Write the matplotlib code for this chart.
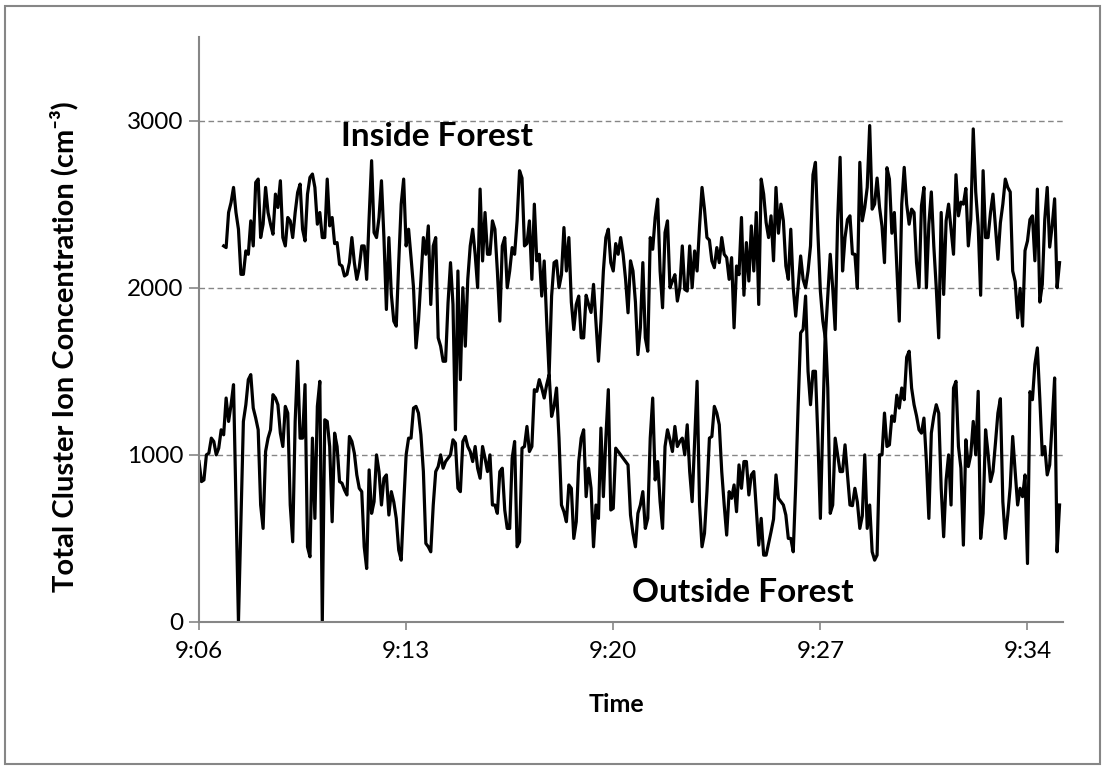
import numpy as np
import matplotlib
matplotlib.use("Agg")
import matplotlib.pyplot as plt
from matplotlib.patches import Rectangle

plt.rcParams['font.family'] = ['Lato', 'DejaVu Sans']

# amostragem de 5 s, tempo em segundos depois das 9:06
passo_s = 5
inicio_dentro_s = 50
inicio_fora_s = 0

dentro = [
    2250, 2240, 2450, 2510, 2600, 2450, 2350, 2080, 2080, 2220, 2200, 2400, 2250, 2630, 2650, 2300,
    2380, 2600, 2450, 2380, 2320, 2560, 2480, 2640, 2300, 2250, 2420, 2400, 2300, 2450, 2570, 2620,
    2350, 2280, 2560, 2660, 2680, 2600, 2380, 2450, 2300, 2300, 2650, 2370, 2420, 2264, 2270, 2140,
    2130, 2070, 2080, 2150, 2300, 2150, 2050, 2120, 2250, 2250, 2050, 2420, 2760, 2330, 2300, 2420,
    2640, 2300, 1870, 2300, 1960, 1800, 1770, 2150, 2500, 2650, 2250, 2350, 2180, 2000, 1640, 1800,
    2050, 2300, 2200, 2370, 1900, 2250, 2300, 1700, 1650, 1560, 1560, 1910, 2150, 1900, 1150, 2100,
    1450, 2000, 1650, 2050, 2250, 2350, 2200, 2000, 2590, 2160, 2450, 2200, 2200, 2400, 2350, 2100,
    1800, 2250, 2300, 2000, 2100, 2240, 2200, 2400, 2700, 2656, 2250, 2264, 2400, 2050, 2500, 2161,
    2200, 1950, 2160, 1800, 1480, 1950, 2150, 2161, 2000, 2078, 2360, 2100, 2300, 1914, 1750, 1900,
    1950, 1700, 1700, 1955, 1900, 1852, 2020, 1790, 1560, 1800, 2100, 2300, 2350, 2150, 2100, 2264,
    2200, 2300, 2200, 2050, 1850, 2161, 2100, 1914, 1600, 1760, 2150, 1700, 1620, 2300, 2230, 2420,
    2530, 2100, 1880, 2330, 2400, 2000, 2040, 2078, 1920, 2000, 2250, 1990, 1980, 2250, 2000, 2220,
    2100, 2367, 2600, 2470, 2300, 2285, 2160, 2120, 2240, 2150, 2300, 2200, 2180, 2050, 2180, 1760,
    2130, 2078, 2420, 1955, 2270, 2040, 2370, 2100, 2450, 1900, 2650, 2560, 2390, 2300, 2430, 2161,
    2600, 2326, 2500, 2400, 2130, 2050, 2350, 2000, 1830, 2010, 2190, 2050, 2000, 2100, 2250, 2676,
    2750, 2326, 1980, 1800, 1700, 1950, 2200, 2000, 1750, 2400, 2780, 2100, 2300, 2408, 2430, 2202,
    2200, 1996, 2750, 2400, 2480, 2600, 2970, 2470, 2500, 2656, 2480, 2367, 2150, 2718, 2650, 2326,
    2450, 2120, 1800, 2500, 2720, 2500, 2380, 2470, 2450, 2150, 2000, 2490, 2600, 2000, 2380, 2573,
    2250, 2000, 1700, 2450, 1960, 2400, 2500, 2350, 2200, 2676, 2430, 2512, 2500, 2594, 2250, 2408,
    2950, 2573, 2370, 1955, 2700, 2300, 2300, 2450, 2560, 2367, 2170, 2388, 2500, 2650, 2600, 2573,
    2100, 2037, 1820, 1996, 1770, 2222, 2280, 2408, 2430, 2161, 2590, 1914, 2020, 2408, 2600, 2243,
    2370, 2532, 2000, 2150,
]

fora = [
    960, 840, 850, 1000, 1010, 1100, 1080, 1000, 1040, 1150, 1120, 1340, 1200, 1300, 1420, 700,
    0, 600, 1200, 1300, 1450, 1480, 1280, 1220, 1150, 700, 560, 1020, 1100, 1150, 1360, 1340,
    1300, 1130, 1050, 1290, 1250, 700, 480, 1200, 1560, 1100, 1100, 1420, 450, 390, 1100, 620,
    1290, 1440, 0, 1210, 1200, 1050, 600, 1130, 1050, 840, 830, 790, 760, 1110, 1080, 1010,
    880, 800, 780, 450, 320, 910, 650, 720, 1000, 900, 700, 860, 880, 640, 780, 718,
    620, 430, 370, 700, 1000, 1100, 1100, 1280, 1290, 1250, 1120, 900, 470, 450, 420, 700,
    900, 930, 1000, 920, 960, 980, 1000, 1090, 1070, 800, 780, 1080, 1110, 1050, 1020, 960,
    1050, 920, 860, 1050, 980, 900, 1000, 700, 700, 650, 900, 920, 670, 560, 560, 980,
    1080, 450, 480, 1040, 1050, 1170, 1020, 1050, 1390, 1380, 1450, 1400, 1340, 1420, 1480, 1230,
    1290, 1400, 1100, 700, 660, 600, 820, 800, 500, 600, 960, 1100, 1150, 750, 920, 800,
    450, 700, 620, 1160, 750, 1100, 1390, 670, 680, 1040, 1020, 1000, 980, 960, 940, 640,
    530, 450, 650, 700, 780, 560, 620, 1100, 1340, 850, 960, 720, 560, 1050, 1150, 1090,
    1020, 1170, 1050, 1080, 1100, 1000, 1180, 900, 720, 1080, 1440, 700, 450, 530, 780, 1100,
    1110, 1290, 1250, 1180, 900, 700, 520, 780, 740, 820, 660, 940, 800, 960, 960, 760,
    880, 900, 680, 460, 620, 400, 400, 470, 540, 615, 880, 740, 720, 700, 640, 500,
    500, 420, 820, 1300, 1730, 1750, 1950, 1500, 1300, 1500, 1500, 1100, 620, 1200, 1750, 1400,
    650, 700, 1100, 1000, 900, 900, 1060, 880, 700, 696, 800, 718, 560, 635, 1000, 560,
    700, 420, 370, 400, 1000, 1000, 1250, 1050, 1060, 1233, 1200, 1357, 1280, 1400, 1330, 1584,
    1620, 1400, 1300, 1233, 1150, 1130, 1220, 960, 620, 1130, 1230, 1300, 1250, 800, 510, 850,
    1000, 700, 1400, 1440, 1050, 920, 460, 1090, 930, 1000, 1200, 1000, 1380, 500, 650, 1150,
    1010, 840, 900, 1070, 1250, 1336, 720, 500, 640, 810, 1110, 900, 700, 800, 750, 880,
    350, 1378, 1330, 1542, 1640, 1336, 1000, 1050, 880, 940, 1190, 1460, 420, 700,
]

ticks_min = [0, 7, 14, 21, 28]
ticks_rotulos = ["9:06", "9:13", "9:20", "9:27", "9:34"]
ticks_y = [0, 1000, 2000, 3000]

t_dentro = (inicio_dentro_s + np.arange(len(dentro)) * passo_s) / 60
t_fora = (inicio_fora_s + np.arange(len(fora)) * passo_s) / 60

cinza = "#868686"
W, H = 1106, 769

fig = plt.figure(figsize=(W / 100, H / 100), dpi=100)
ax = fig.add_axes([199 / W, 1 - 622 / H, (1063 - 199) / W, (622 - 37) / H])

ax.plot(t_dentro, dentro, color="black", lw=2.3)
ax.plot(t_fora, fora, color="black", lw=2.3)

ax.set_xlim(0, 29.2)
ax.set_ylim(0, 3500)
ax.set_xticks(ticks_min)
ax.set_xticklabels(ticks_rotulos)
ax.set_yticks(ticks_y)

ax.yaxis.grid(True, linestyle=(0, (4, 2.5)), color=cinza, lw=1.0)
ax.set_axisbelow(True)

for lado in ["top", "right"]:
    ax.spines[lado].set_visible(False)
for lado in ["left", "bottom"]:
    ax.spines[lado].set_color(cinza)
    ax.spines[lado].set_linewidth(1.5)

ax.tick_params(axis="y", length=7, width=1.2, color=cinza, labelsize=17.5, pad=4)
ax.tick_params(axis="x", length=6, width=1.2, color=cinza, labelsize=17.5, pad=8)


def px(x, y):
    return x / W, 1 - y / H


fig.text(*px(64, 347), "Total Cluster Ion Concentration (cm⁻³)", rotation=90, fontsize=21,
         fontweight="bold", ha="center", va="center")
fig.text(*px(616, 705), "Time", fontsize=18, fontweight="bold", ha="center", va="center")

fig.text(*px(437, 137), "Inside Forest", fontsize=24, fontweight="bold", ha="center", va="center")
fig.text(*px(743, 593), "Outside Forest", fontsize=24, fontweight="bold", ha="center", va="center")

fig.patches.append(Rectangle((5 / W, 5 / H), 1095 / W, 758 / H, transform=fig.transFigure,
                             fill=False, edgecolor=cinza, lw=1.5))

fig.savefig("out.png", dpi=100)
